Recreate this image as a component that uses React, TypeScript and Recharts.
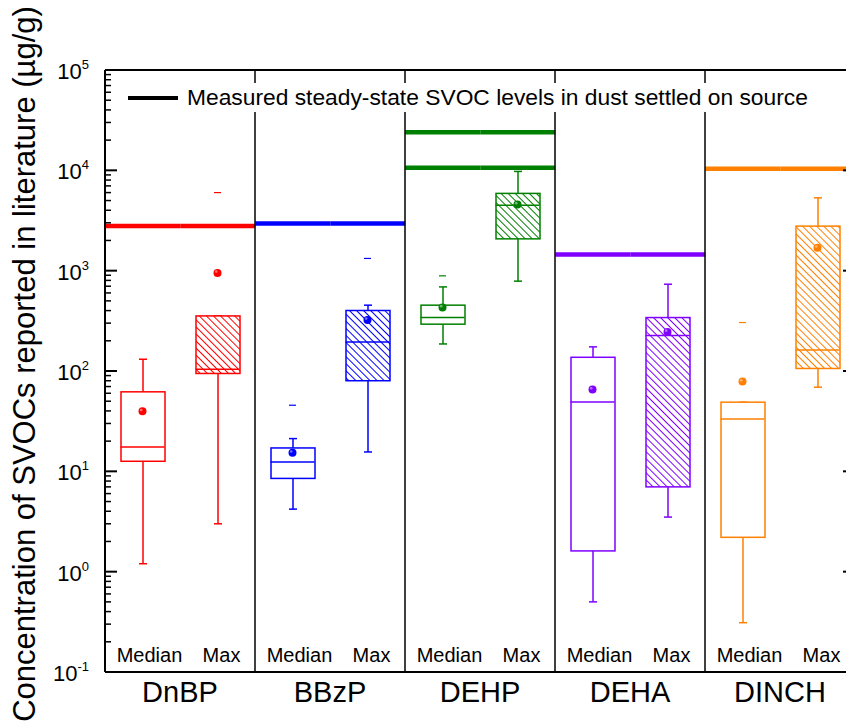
import React from 'react';
import { ComposedChart, Bar, Line, XAxis, YAxis, ReferenceLine, Legend } from 'recharts';

const groups = ['DnBP', 'BBzP', 'DEHP', 'DEHA', 'DINCH'];
const groupColors = ['#ff0000', '#0000ff', '#008000', '#8000ff', '#ff8000'];
const stats = ['Median', 'Max'];

// one value per box, in order DnBP Median, DnBP Max, BBzP Median, BBzP Max, ...
const whiskerLow = [1.2, 3.0, 4.2, 15.6, 186, 786, 0.5, 3.5, 0.31, 69];
const q1 = [12.6, 94.5, 8.5, 80, 293, 2075, 1.61, 7.0, 2.2, 106];
const medians = [17.5, 104, 12.4, 194, 341, 4500, 49.2, 226, 33.3, 162];
const q3 = [62, 354, 17.1, 401, 453, 5890, 137, 341, 48.9, 2780];
const whiskerHigh = [131, 354, 21.2, 453, 689, 9750, 174, 733, 48.9, 5320];
const means = [39.7, 950, 15.3, 323, 430, 4570, 65.4, 245, 78.6, 1690];
const extremes = [null, 6000, 45.6, 1324, 888, null, null, null, 304, null];

// steady-state levels in dust settled on the source, per compound
const measuredLevels = [[2780], [2955], [24000, 10600], [1450], [10350]];

const legendText = 'Measured steady-state SVOC levels in dust settled on source';
const yTitle = 'Concentration of SVOCs reported in literature (µg/g)';

const FONT = '"Liberation Sans", Arial, Helvetica, sans-serif';
const CHART_W = 870;
const CHART_H = 725;
const LEFT_W = 105;
const RIGHT_W = 15;
const TOP = 70;
const BOTTOM_H = 53;
const BOX_W = 44;

const rows = groups.flatMap((g, gi) =>
  stats.map((s, si) => {
    const i = gi * 2 + si;
    return {
      name: `${g} ${s}`,
      group: g,
      stat: s,
      color: groupColors[gi],
      hatched: s === 'Max',
      whisker: [whiskerLow[i], whiskerHigh[i]],
      box: [q1[i], q3[i]],
      median: medians[i],
      mean: means[i],
      extreme: extremes[i],
      level1: measuredLevels[gi][0],
      level2: measuredLevels[gi][1] ?? null,
    };
  })
);

// log ticks: 1..9 x 10^e, labels only on the decades
const yTicks: number[] = [];
for (let e = -1; e < 5; e++) {
  for (let m = 1; m < 10; m++) yTicks.push(Number((m * Math.pow(10, e)).toPrecision(6)));
}
yTicks.push(100000);

const isDecade = (v: number) => Math.abs(Math.log10(v) - Math.round(Math.log10(v))) < 1e-6;

const bandWidth = (CHART_W - LEFT_W - RIGHT_W) / rows.length;

function LeftTick({ x, y, payload }: any) {
  const v = payload.value;
  const major = isDecade(v);
  return (
    <g>
      <line x1={x} x2={x + (major ? 12 : 6)} y1={y} y2={y} stroke="#000" strokeWidth={major ? 2 : 1.5} />
      {major && (
        <text x={x - 16} y={y + 9} textAnchor="end" fontSize={22} fontFamily={FONT} fill="#000">
          10
          <tspan dy={-10} fontSize={13}>{Math.round(Math.log10(v))}</tspan>
        </text>
      )}
    </g>
  );
}

function RightTick({ x, y, payload }: any) {
  const major = isDecade(payload.value);
  return <line x1={x} x2={x - (major ? 12 : 6)} y1={y} y2={y} stroke="#000" strokeWidth={major ? 2 : 1.5} />;
}

function CatTick({ x, y, payload }: any) {
  const [group, stat] = String(payload.value).split(' ');
  return (
    <g fontFamily={FONT} fill="#000">
      <text x={x + (stat === 'Median' ? 7 : 4)} y={y - 10} textAnchor="middle" fontSize={20}>
        {stat}
      </text>
      {stat === 'Median' && (
        <text x={x + bandWidth / 2} y={y + 30} textAnchor="middle" fontSize={29}>
          {group}
        </text>
      )}
    </g>
  );
}

function WhiskerShape(props: any) {
  const { x, y, width, height, payload } = props;
  const top = Math.min(y, y + height);
  const bottom = Math.max(y, y + height);
  const cx = x + width / 2;
  const c = payload.color;
  return (
    <g stroke={c} strokeWidth={1.5}>
      <line x1={cx} x2={cx} y1={top} y2={bottom} />
      <line x1={cx - 4} x2={cx + 4} y1={top} y2={top} />
      <line x1={cx - 4} x2={cx + 4} y1={bottom} y2={bottom} />
    </g>
  );
}

function BoxShape(props: any) {
  const { x, y, width, height, payload } = props;
  const top = Math.min(y, y + height);
  const h = Math.abs(height);
  const c = payload.color;
  const id = `hatch-${payload.name.replace(' ', '-')}`;
  return (
    <g>
      {payload.hatched && (
        <defs>
          <pattern id={id} width={5} height={5} patternUnits="userSpaceOnUse" patternTransform="rotate(-45)">
            <line x1={2.5} y1={0} x2={2.5} y2={5} stroke={c} strokeWidth={1} />
          </pattern>
        </defs>
      )}
      <rect x={x} y={top} width={width} height={h} fill="#fff" />
      {payload.hatched && <rect x={x} y={top} width={width} height={h} fill={`url(#${id})`} />}
      <rect x={x} y={top} width={width} height={h} fill="none" stroke={c} strokeWidth={1.5} />
    </g>
  );
}

// a measured level is a thick horizontal stroke across the whole band
function LevelShape(props: any) {
  const { x, y, width, payload } = props;
  if (y == null || isNaN(y)) return <g />;
  const cx = x + width / 2;
  return (
    <line x1={cx - bandWidth / 2} x2={cx + bandWidth / 2} y1={y} y2={y} stroke={payload.color} strokeWidth={4.5} />
  );
}

function MedianDot({ cx, cy, payload, index }: any) {
  if (cy == null || cx == null) return <g key={`md-${index}`} />;
  return (
    <line key={`md-${index}`} x1={cx - BOX_W / 2} x2={cx + BOX_W / 2} y1={cy} y2={cy} stroke={payload.color} strokeWidth={1.5} />
  );
}

function MeanDot({ cx, cy, payload, index }: any) {
  if (cy == null || cx == null) return <g key={`mn-${index}`} />;
  return (
    <g key={`mn-${index}`}>
      <circle cx={cx} cy={cy} r={4} fill={payload.color} />
      <circle cx={cx - 1.3} cy={cy - 1.3} r={1.3} fill="#fff" opacity={0.45} />
    </g>
  );
}

function ExtremeDot({ cx, cy, payload, index }: any) {
  if (cy == null || cx == null || payload.extreme == null) return <g key={`ex-${index}`} />;
  return <line key={`ex-${index}`} x1={cx - 3.5} x2={cx + 3.5} y1={cy} y2={cy} stroke={payload.color} strokeWidth={1.2} />;
}

function TitleLabel({ viewBox }: any) {
  const cy = viewBox.y + viewBox.height / 2 - 7;
  return (
    <text
      x={35}
      y={cy}
      transform={`rotate(-90, 35, ${cy})`}
      textAnchor="middle"
      fontSize={31}
      fontFamily={FONT}
      fill="#000"
    >
      {yTitle}
    </text>
  );
}

function LegendBox() {
  return (
    <div
      style={{
        display: 'inline-flex',
        alignItems: 'center',
        background: '#fff',
        height: 29,
        paddingLeft: 8,
        paddingRight: 6,
      }}
    >
      <div style={{ width: 50, height: 4, background: '#000' }} />
      <span
        style={{
          marginLeft: 9,
          fontSize: 22.8,
          fontFamily: FONT,
          color: '#000',
          lineHeight: '29px',
          whiteSpace: 'nowrap',
        }}
      >
        {legendText}
      </span>
    </div>
  );
}

export default function App() {
  return (
    <div
      style={{
        position: 'absolute',
        left: 0,
        top: 0,
        width: 846,
        height: 725,
        overflow: 'hidden',
        background: '#fff',
      }}
    >
      <ComposedChart
        width={CHART_W}
        height={CHART_H}
        data={rows}
        barCategoryGap={0}
        margin={{ top: TOP, right: 0, bottom: 0, left: 0 }}
      >
        <XAxis
          xAxisId="cat"
          dataKey="name"
          type="category"
          height={BOTTOM_H}
          interval={0}
          tickSize={0}
          tickMargin={0}
          tickLine={false}
          axisLine={{ stroke: '#000', strokeWidth: 2 }}
          tick={<CatTick />}
        />
        <XAxis xAxisId="wh" dataKey="name" type="category" hide />
        <XAxis xAxisId="lv1" dataKey="name" type="category" hide />
        <XAxis xAxisId="lv2" dataKey="name" type="category" hide />
        <YAxis
          yAxisId="left"
          type="number"
          scale="log"
          domain={[0.1, 100000]}
          allowDataOverflow
          ticks={yTicks}
          interval={0}
          width={LEFT_W}
          tickSize={0}
          tickMargin={0}
          tickLine={false}
          axisLine={{ stroke: '#000', strokeWidth: 2 }}
          tick={<LeftTick />}
          label={(p: any) => <TitleLabel {...p} />}
        />
        <YAxis
          yAxisId="right"
          orientation="right"
          type="number"
          scale="log"
          domain={[0.1, 100000]}
          allowDataOverflow
          ticks={yTicks}
          interval={0}
          width={RIGHT_W}
          tickSize={0}
          tickMargin={0}
          tickLine={false}
          axisLine={{ stroke: '#000', strokeWidth: 2 }}
          tick={<RightTick />}
        />

        {groups.slice(1).map((g) => (
          <ReferenceLine
            key={`div-${g}`}
            xAxisId="wh"
            yAxisId="left"
            x={`${g} Median`}
            position="start"
            stroke="#000"
            strokeWidth={1.5}
          />
        ))}
        <ReferenceLine xAxisId="wh" yAxisId="left" y={100000} stroke="#000" strokeWidth={2} />

        <Bar
          xAxisId="lv1"
          yAxisId="left"
          dataKey="level1"
          barSize={bandWidth}
          shape={LevelShape}
          isAnimationActive={false}
          legendType="none"
        />
        <Bar
          xAxisId="lv2"
          yAxisId="left"
          dataKey="level2"
          barSize={bandWidth}
          shape={LevelShape}
          isAnimationActive={false}
          legendType="none"
        />
        <Bar
          xAxisId="wh"
          yAxisId="left"
          dataKey="whisker"
          barSize={BOX_W}
          shape={WhiskerShape}
          isAnimationActive={false}
          legendType="none"
        />
        <Bar
          xAxisId="cat"
          yAxisId="left"
          dataKey="box"
          barSize={BOX_W}
          shape={BoxShape}
          isAnimationActive={false}
          legendType="none"
        />
        <Line
          xAxisId="cat"
          yAxisId="left"
          dataKey="median"
          stroke="none"
          dot={MedianDot}
          activeDot={false}
          isAnimationActive={false}
          legendType="none"
        />
        <Line
          xAxisId="cat"
          yAxisId="left"
          dataKey="extreme"
          stroke="none"
          dot={ExtremeDot}
          activeDot={false}
          isAnimationActive={false}
          legendType="none"
        />
        <Line
          xAxisId="cat"
          yAxisId="left"
          dataKey="mean"
          stroke="none"
          dot={MeanDot}
          activeDot={false}
          isAnimationActive={false}
          legendType="none"
        />

        <Legend
          layout="horizontal"
          verticalAlign="middle"
          align="center"
          wrapperStyle={{ left: 120, top: 83, width: 'auto', height: 'auto', lineHeight: 0 }}
          content={() => <LegendBox />}
        />
      </ComposedChart>
    </div>
  );
}
